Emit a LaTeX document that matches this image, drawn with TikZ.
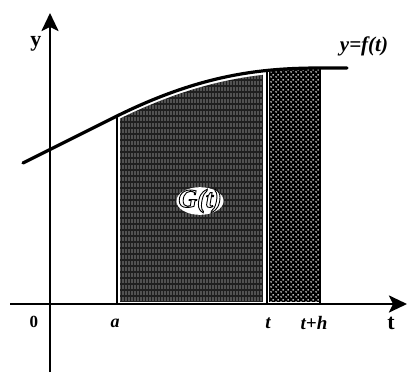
\documentclass[tikz,border=0pt]{standalone}
\usepackage{fontspec}
\setmainfont{Liberation Serif}
\usetikzlibrary{arrows.meta,patterns,shapes.geometric}
\pgfdeclarepatternformonly{wdots}{\pgfqpoint{0pt}{0pt}}{\pgfqpoint{5pt}{5pt}}{\pgfqpoint{5pt}{5pt}}{%
  \pgfpathcircle{\pgfqpoint{1.25pt}{1.25pt}}{1pt}%
  \pgfpathcircle{\pgfqpoint{3.75pt}{3.75pt}}{1pt}%
  \pgfusepath{fill}}
\pgfdeclarepatternformonly{streaks}{\pgfqpoint{0pt}{0pt}}{\pgfqpoint{2.6pt}{6pt}}{\pgfqpoint{2.6pt}{6pt}}{%
  \pgfpathrectangle{\pgfqpoint{0.8pt}{0pt}}{\pgfqpoint{0.9pt}{4.6pt}}%
  \pgfusepath{fill}}
\newcommand{\outlinetext}[1]{{\color{white}\special{pdf:literal direct 0 G 2 Tr 0.9 w}#1\special{pdf:literal direct 0 Tr}}}
\begin{document}
\begin{tikzpicture}[x=1pt,y=-1pt,
  axis/.style={line width=2.6pt, -{Stealth[length=18pt,width=17pt,inset=4pt]}},
  curvestyle/.style={line width=3.2pt, line cap=round},
  edge/.style={line width=2.3pt},
  lab/.style={font=\fontsize{19}{19}\selectfont\bfseries\itshape, inner sep=0pt},
  axlab/.style={font=\fontsize{22}{22}\selectfont\bfseries, inner sep=0pt}]
\useasboundingbox (0,0) rectangle (408,373);
% shaded regions
\begin{scope}
  \clip[yshift=-4pt] (23,163) -- (117,116) .. controls (200,75) and (260,68) .. (320,68) -- (347,68) -- (347,400) -- (23,400) -- cycle;
  \fill[black!88] (120,40) rectangle (263,302);
  \fill[pattern=streaks, pattern color=black!30] (120,40) rectangle (263,302);
\end{scope}
\begin{scope}
  \clip (23,163) -- (117,116) .. controls (200,75) and (260,68) .. (320,68) -- (347,68) -- (347,400) -- (23,400) -- cycle;
  \fill[black] (269,40) rectangle (319,302);
  \fill[pattern=wdots, pattern color=white] (269,40) rectangle (319,302);
\end{scope}
% coordinates
\coordinate (xstart) at (10,304);
\coordinate (xend) at (407,304);
\coordinate (ystart) at (50,372);
\coordinate (yend) at (50,13);
\coordinate (cstart) at (23,163);
\coordinate (atop) at (117,116);
\coordinate (abot) at (117,304);
\coordinate (ttop) at (267,71);
\coordinate (tbot) at (267,304);
\coordinate (thtop) at (320,68);
\coordinate (thbot) at (320,304);
\coordinate (cend) at (347,68);
% vertical lines
\draw[edge] (atop) -- (abot);
\draw[edge, line width=2pt] (ttop) -- (tbot);
\draw[edge, line width=2pt] (thtop) -- (thbot);
% axes
\draw[axis] (xstart) -- (xend);
\draw[axis] (ystart) -- (yend);
% curve
\draw[curvestyle] (cstart) -- (atop) .. controls (200,75) and (260,68) .. (thtop) -- (cend);
% labels
\node[axlab] (ylab) at (36,44) {y};
\node[axlab] (tlab) at (391,323) {t};
\node[font=\fontsize{17}{17}\selectfont\bfseries, inner sep=0pt] (zero) at (34,322) {0};
\node[lab, font=\fontsize{18}{18}\selectfont\bfseries\itshape] (alab) at (115,323) {a};
\node[lab] (tl) at (268,323) {t};
\node[lab] (thl) at (314,323) {t+h};
\node[lab, font=\fontsize{21}{21}\selectfont\bfseries\itshape] (fl) at (364,46) {y=f(t)};
\node[ellipse, fill=white, inner xsep=-5pt, inner ysep=-2pt, font=\fontsize{26}{26}\selectfont\bfseries\itshape] (G) at (200,201) {\outlinetext{G(t)}};
\end{tikzpicture}
\end{document}
